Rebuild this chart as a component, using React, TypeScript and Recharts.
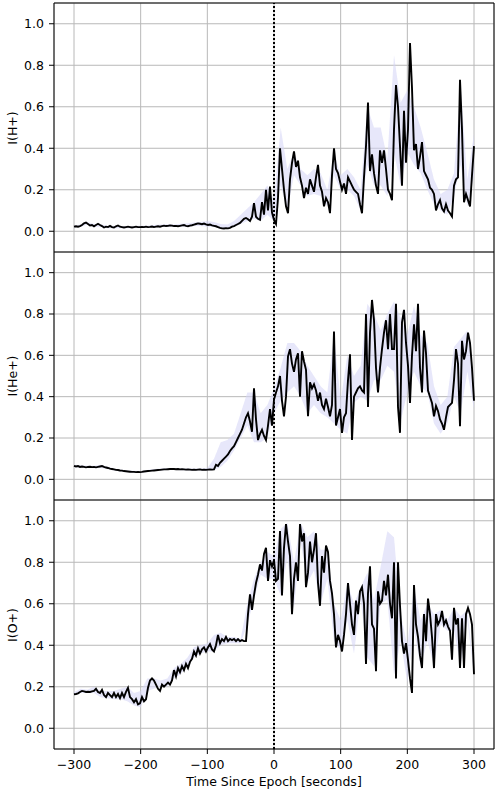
import React from 'react';
import { ComposedChart, Line, Area, XAxis, YAxis, CartesianGrid, ReferenceLine, ReferenceArea } from 'recharts';

const X_TICKS = [-300, -200, -100, 0, 100, 200, 300];
const Y_TICKS = [0, 0.2, 0.4, 0.6, 0.8, 1.0];
const LINE_TIMES = Array.from({ length: 201 }, (_, i) => -300 + 3 * i);
const BAND_TIMES = Array.from({ length: 61 }, (_, i) => -300 + 10 * i);

const H_PLUS = [
  .022, .024, .022, .025, .03, .038, .042, .035, .028, .03,
  .024, .03, .036, .03, .025, .018, .022, .02, .026, .02,
  .018, .024, .028, .022, .02, .018, .02, .022, .02, .018,
  .02, .022, .02, .02, .021, .02, .022, .02, .021, .023,
  .02, .022, .024, .022, .025, .027, .025, .026, .028, .027,
  .025, .026, .024, .026, .028, .03, .026, .024, .027, .029,
  .032, .035, .038, .036, .034, .037, .033, .03, .032, .028,
  .026, .024, .02, .016, .014, .013, .015, .014, .016, .022,
  .025, .03, .035, .04, .05, .06, .064, .058, .05, .07,
  .135, .07, .06, .055, .14, .08, .2, .1, .215, .09,
  .055, .035, .16, .40, .30, .20, .12, .087, .25, .33,
  .385, .31, .34, .26, .22, .16, .21, .18, .25, .22,
  .19, .26, .32, .22, .19, .12, .16, .14, .087, .27,
  .40, .30, .28, .24, .20, .23, .18, .26, .24, .22,
  .20, .19, .18, .13, .087, .26, .41, .62, .29, .37,
  .28, .22, .18, .39, .33, .39, .30, .20, .18, .15,
  .49, .705, .60, .41, .22, .58, .33, .49, .907, .69,
  .39, .42, .30, .36, .43, .29, .27, .25, .21, .20,
  .18, .10, .13, .15, .11, .095, .13, .10, .087, .071,
  .22, .25, .26, .73, .49, .14, .18, .15, .12, .27,
  .41,
];
const H_LO = [
  .018, .02, .032, .02, .02, .015, .015, .015, .015, .015,
  .016, .016, .017, .02, .02, .02, .022, .022, .025, .025,
  .022, .02, .012, .012, .02, .035, .05, .06, .05, .08,
  .05, .22, .1, .27, .22, .17, .18, .17, .12, .27,
  .2, .2, .17, .1, .32, .22, .22, .17, .38, .22,
  .38, .32, .28, .2, .13, .1, .08, .17, .32, .12,
  .27,
];
const H_HI = [
  .028, .032, .045, .035, .034, .026, .026, .025, .025, .025,
  .026, .027, .03, .032, .034, .033, .036, .038, .042, .045,
  .05, .045, .035, .032, .05, .08, .11, .14, .18, .22,
  .15, .5, .3, .38, .3, .27, .3, .28, .2, .38,
  .27, .3, .26, .2, .6, .5, .5, .35, .85, .62,
  .68, .6, .5, .38, .25, .18, .2, .28, .7, .25,
  .47,
];

const HE_PLUS = [
  .065, .062, .064, .06, .062, .06, .058, .06, .061, .059,
  .06, .058, .06, .062, .064, .06, .057, .055, .052, .05,
  .048, .046, .045, .043, .042, .04, .039, .038, .037, .036,
  .036, .035, .036, .035, .036, .038, .039, .04, .041, .042,
  .043, .044, .045, .046, .047, .048, .048, .049, .05, .05,
  .05, .049, .05, .048, .049, .048, .047, .048, .047, .046,
  .047, .046, .047, .048, .046, .047, .046, .047, .048, .047,
  .048, .07, .065, .08, .09, .1, .11, .12, .137, .15,
  .16, .18, .2, .22, .24, .27, .3, .32, .28, .23,
  .44, .29, .19, .22, .24, .21, .19, .26, .34, .26,
  .386, .42, .45, .50, .38, .305, .40, .595, .63, .56,
  .52, .58, .61, .40, .62, .57, .53, .305, .47, .44,
  .46, .43, .38, .42, .36, .34, .39, .35, .305, .36,
  .715, .26, .30, .34, .225, .30, .32, .48, .605, .19,
  .40, .42, .44, .45, .43, .42, .80, .35, .71, .868,
  .77, .54, .42, .54, .63, .71, .77, .63, .80, .63,
  .63, .85, .35, .225, .76, .82, .66, .55, .37, .6,
  .75, .62, .85, .54, .42, .72, .61, .43, .40, .37,
  .305, .355, .33, .29, .27, .24, .30, .35, .36, .37,
  .48, .63, .56, .257, .67, .58, .62, .71, .66, .54,
  .38,
];
const HE_LO = [
  .058, .056, .056, .054, .055, .05, .043, .038, .034, .032,
  .032, .036, .04, .043, .045, .045, .044, .043, .043, .043,
  .043, .045, .06, .09, .14, .2, .26, .18, .18, .2,
  .32, .38, .42, .45, .4, .32, .36, .32, .3, .27,
  .24, .22, .37, .4, .38, .48, .48, .55, .52, .28,
  .42, .52, .45, .42, .27, .22, .27, .4, .32, .52,
  .34,
];
const HE_HI = [
  .07, .068, .066, .066, .07, .062, .053, .047, .043, .041,
  .04, .045, .05, .053, .055, .055, .053, .052, .052, .053,
  .055, .1, .18, .19, .22, .32, .42, .42, .32, .36,
  .44, .54, .66, .66, .62, .55, .5, .45, .42, .7,
  .38, .6, .5, .55, .85, .8, .72, .8, .86, .78,
  .7, .84, .7, .66, .45, .36, .4, .64, .68, .72,
  .46,
];

const O_PLUS = [
  .164, .165, .168, .175, .18, .178, .175, .176, .175, .178,
  .18, .19, .175, .17, .185, .16, .15, .17, .16, .15,
  .17, .15, .165, .145, .17, .15, .175, .195, .15, .14,
  .125, .14, .115, .12, .15, .13, .14, .195, .23, .24,
  .23, .21, .19, .18, .21, .2, .21, .22, .21, .23,
  .28, .25, .29, .27, .3, .28, .31, .29, .32, .335,
  .37, .35, .385, .36, .38, .39, .37, .39, .405, .38,
  .37, .4, .45, .41, .43, .42, .44, .42, .43, .425,
  .43, .42, .43, .42, .425, .42, .42, .55, .645, .57,
  .64, .7, .74, .79, .76, .84, .87, .71, .81, .78,
  .81, .71, .72, .95, .64, .87, .984, .9, .83, .55,
  .72, .80, .71, .984, .9, .94, .68, .75, .9, .80,
  .86, .94, .7, .59, .83, .75, .88, .85, .71, .65,
  .55, .39, .45, .42, .37, .45, .55, .70, .6, .5,
  .45, .615, .55, .66, .68, .6, .31, .65, .78, .5,
  .48, .275, .66, .6, .615, .71, .64, .74, .6, .53,
  .80, .24, .80, .59, .42, .36, .41, .33, .24, .17,
  .69, .5, .44, .35, .29, .55, .42, .625, .55, .44,
  .29, .55, .5, .52, .565, .5, .52, .49, .47, .33,
  .58, .50, .53, .29, .53, .29, .55, .58, .55, .50,
  .26,
];
const O_LO = [
  .16, .17, .17, .17, .15, .145, .14, .14, .13, .11,
  .1, .18, .19, .2, .2, .24, .26, .3, .34, .36,
  .37, .37, .4, .41, .41, .41, .5, .62, .74, .72,
  .72, .64, .82, .58, .9, .7, .76, .6, .72, .42,
  .38, .52, .36, .62, .34, .3, .6, .62, .26, .42,
  .22, .47, .3, .42, .3, .5, .47, .47, .3, .52,
  .26,
];
const O_HI = [
  .175, .19, .185, .2, .18, .18, .18, .19, .2, .17,
  .18, .24, .24, .23, .24, .29, .31, .34, .39, .4,
  .41, .45, .46, .44, .44, .43, .6, .72, .8, .85,
  .83, .96, .99, .8, .99, .92, .95, .86, .86, .6,
  .52, .7, .6, .68, .75, .62, .78, .95, .92, .55,
  .4, .68, .52, .6, .55, .57, .52, .58, .54, .57,
  .28,
];

const FONT = "'DejaVu Sans', sans-serif";
const FS = 12.5;

const fmtX = (v: number) => (v < 0 ? '\u2212' + Math.abs(v) : String(v));
const fmtY = (v: number) => v.toFixed(1);

type PanelProps = {
  top: number;
  height: number;
  marginTop: number;
  marginBottom: number;
  showX: boolean;
  values: number[];
  lo: number[];
  hi: number[];
  label: string;
};

function Panel({ top, height, marginTop, marginBottom, showX, values, lo, hi, label }: PanelProps) {
  const lineData = LINE_TIMES.map((t, i) => ({ t, v: values[i] }));
  const bandData = BAND_TIMES.map((t, i) => ({ t, range: [lo[i], hi[i]] }));
  const plotTop = top + marginTop;
  const plotBottom = top + height - marginBottom - (showX ? 30 : 0);
  return (
    <>
      <div style={{ position: 'absolute', left: 0, top }}>
        <ComposedChart
          width={498}
          height={height}
          margin={{ top: marginTop, right: 4, bottom: marginBottom, left: 14 }}
        >
          <CartesianGrid stroke="#b8b8b8" strokeWidth={1} />
          <XAxis
            type="number"
            dataKey="t"
            domain={[-330, 330]}
            ticks={X_TICKS}
            allowDataOverflow
            hide={!showX}
            height={30}
            tickFormatter={fmtX}
            tick={{ fontFamily: FONT, fontSize: FS, fill: '#000' }}
            tickSize={5}
            tickMargin={6}
            tickLine={{ stroke: '#000' }}
            axisLine={false}
          />
          <YAxis
            type="number"
            domain={[-0.1, 1.1]}
            ticks={Y_TICKS}
            allowDataOverflow
            width={40}
            tickFormatter={fmtY}
            tick={{ fontFamily: FONT, fontSize: FS, fill: '#000' }}
            tickSize={5}
            tickMargin={5}
            tickLine={{ stroke: '#000' }}
            axisLine={false}
          />
          <Area
            data={bandData}
            dataKey="range"
            type="linear"
            stroke="none"
            fill="#d4d4f6"
            fillOpacity={0.55}
            isAnimationActive={false}
          />
          <Line
            data={lineData}
            dataKey="v"
            type="linear"
            stroke="#000"
            strokeWidth={1.9}
            dot={false}
            isAnimationActive={false}
          />
          <ReferenceLine x={0} stroke="#000" strokeWidth={2} strokeDasharray="2 2" />
          <ReferenceArea x1={-330} x2={330} y1={-0.1} y2={1.1} fill="none" stroke="#000" strokeWidth={1} ifOverflow="visible" />
        </ComposedChart>
      </div>
      <div
        style={{
          position: 'absolute',
          left: 12,
          top: (plotTop + plotBottom) / 2,
          transform: 'translate(-50%, -50%) rotate(-90deg)',
          fontFamily: FONT,
          fontSize: FS,
          whiteSpace: 'nowrap',
          color: '#000',
        }}
      >
        {label}
      </div>
    </>
  );
}

export default function App() {
  return (
    <div style={{ position: 'absolute', left: 0, top: 0, width: 498, height: 793, background: '#fff', fontFamily: FONT }}>
      <Panel top={0} height={252} marginTop={3} marginBottom={0} showX={false} values={H_PLUS} lo={H_LO} hi={H_HI} label="I(H+)" />
      <Panel top={252} height={248} marginTop={0} marginBottom={0} showX={false} values={HE_PLUS} lo={HE_LO} hi={HE_HI} label="I(He+)" />
      <Panel top={500} height={293} marginTop={0} marginBottom={14} showX={true} values={O_PLUS} lo={O_LO} hi={O_HI} label="I(O+)" />
      <div
        style={{
          position: 'absolute',
          left: 54,
          width: 440,
          top: 774.5,
          lineHeight: '14px',
          textAlign: 'center',
          fontFamily: FONT,
          fontSize: FS,
          color: '#000',
        }}
      >
        Time Since Epoch [seconds]
      </div>
    </div>
  );
}
